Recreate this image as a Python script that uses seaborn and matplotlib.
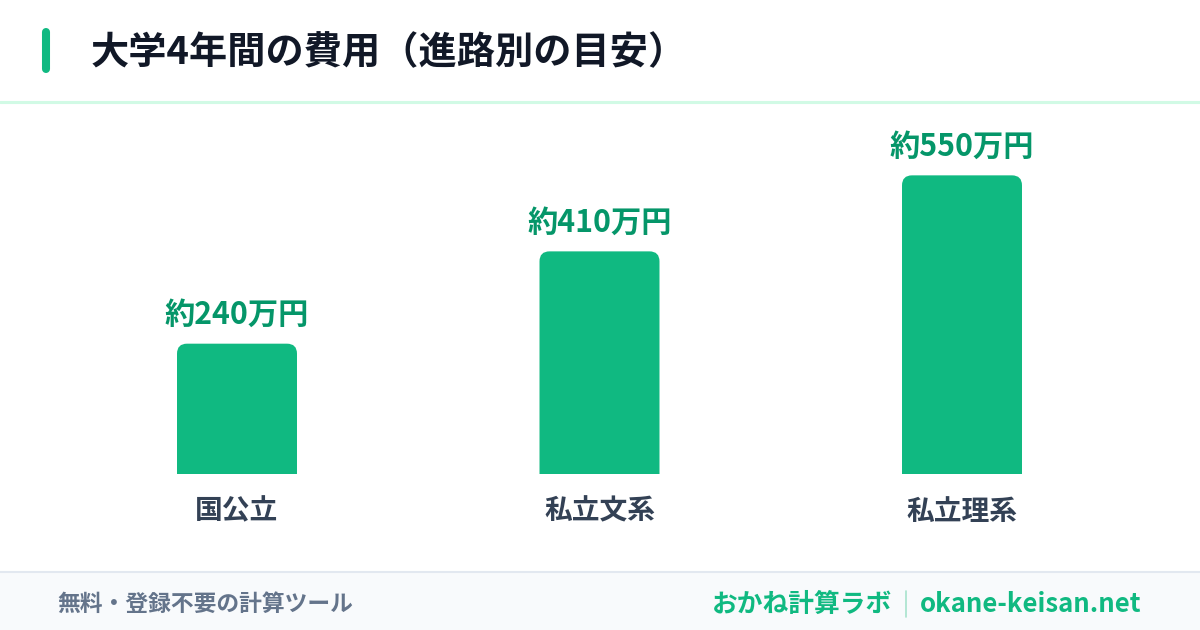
import matplotlib
matplotlib.use("Agg")
import matplotlib.pyplot as plt
import seaborn as sns
from matplotlib.patches import PathPatch, Rectangle
from matplotlib.path import Path
from matplotlib.lines import Line2D

# chart data
categories = ["国公立", "私立文系", "私立理系"]
costs = [240, 410, 550]  # 万円
value_labels = ["約240万円", "約410万円", "約550万円"]

title = "大学4年間の費用（進路別の目安）"
footer_left = "無料・登録不要の計算ツール"
footer_brand = "おかね計算ラボ"
footer_url = "okane-keisan.net"

BAR = "#10b981"
LABEL_GREEN = "#059669"
W, H = 1200, 630

sns.set_theme(style="white")
plt.rcParams["font.family"] = ["Noto Sans CJK JP", "DejaVu Sans"]

fig = plt.figure(figsize=(12, 6.3), dpi=100)
fig.patch.set_facecolor("white")


def fx(x):
    return x / W


def fy(y):
    # y measured from the top in pixels
    return 1 - y / H


def top_rounded(x0, w, h, rx, ry):
    """Bar outline with only the two top corners rounded."""
    x1 = x0 + w
    verts = [(x0, 0), (x0, h - ry), (x0, h), (x0 + rx, h), (x1 - rx, h),
             (x1, h), (x1, h - ry), (x1, 0), (x0, 0)]
    codes = [Path.MOVETO, Path.LINETO, Path.CURVE3, Path.CURVE3, Path.LINETO,
             Path.CURVE3, Path.CURVE3, Path.LINETO, Path.CLOSEPOLY]
    return Path(verts, codes)


# header
fig.add_artist(Line2D([fx(46), fx(46)], [fy(32), fy(69)], color=BAR, lw=5.8,
                      solid_capstyle="round", transform=fig.transFigure))
fig.text(fx(91), fy(53), title, fontsize=27.5, fontweight="bold", color="#111827",
         va="center", ha="left")
fig.add_artist(Line2D([0, 1], [fy(102), fy(102)], color="#d1fae5", lw=2.2,
                      transform=fig.transFigure))

# footer
fig.add_artist(Rectangle((0, 0), 1, fy(572), color="#f8fafc",
                         transform=fig.transFigure, zorder=0))
fig.add_artist(Line2D([0, 1], [fy(572), fy(572)], color="#e2e8f0", lw=1.5,
                      transform=fig.transFigure))
fig.text(fx(57), fy(604), footer_left, fontsize=16.4, fontweight="bold",
         color="#64748b", va="center", ha="left")
fig.text(fx(1141), fy(604), footer_url, fontsize=18.5, fontweight="bold",
         color=BAR, va="center", ha="right")
fig.add_artist(Line2D([fx(906), fx(906)], [fy(591), fy(617)], color="#a7e3cc", lw=1.2,
                      transform=fig.transFigure))
fig.text(fx(892), fy(604), footer_brand, fontsize=18.5, fontweight="bold",
         color=BAR, va="center", ha="right")

# bar chart
ax_left, ax_w = 55.75, 1087.5
ax_bottom, ax_h = 474, 354
ax = fig.add_axes([fx(ax_left), fy(ax_bottom), fx(ax_w), ax_h / H])
ax.set_facecolor("none")

sns.barplot(x=categories, y=costs, color=BAR, width=0.331, saturation=1, ax=ax)
ymax = ax_h / 0.543
ax.set_xlim(-0.5, 2.5)
ax.set_ylim(0, ymax)

# swap seaborn's rectangles for ones with rounded top corners
px_x = 1 / (ax_w / 3)     # x data units per pixel
px_y = ymax / ax_h        # y data units per pixel
for p in list(ax.patches):
    x0, w, h = p.get_x(), p.get_width(), p.get_height()
    p.set_visible(False)
    ax.add_patch(PathPatch(top_rounded(x0, w, h, 10 * px_x, 10 * px_y),
                           fc=BAR, ec="none", lw=0))

for i, (v, lab) in enumerate(zip(costs, value_labels)):
    ax.text(i, v + 29 * px_y, lab, ha="center", va="center", fontsize=21.8,
            fontweight="bold", color=LABEL_GREEN)

ax.tick_params(axis="x", length=0, pad=17, labelsize=20, labelcolor="#334155")
for t in ax.get_xticklabels():
    t.set_fontweight("bold")
ax.set_yticks([])
ax.set_xlabel("")
ax.set_ylabel("")
sns.despine(ax=ax, left=True, bottom=True)

fig.savefig("out.png", dpi=100)
